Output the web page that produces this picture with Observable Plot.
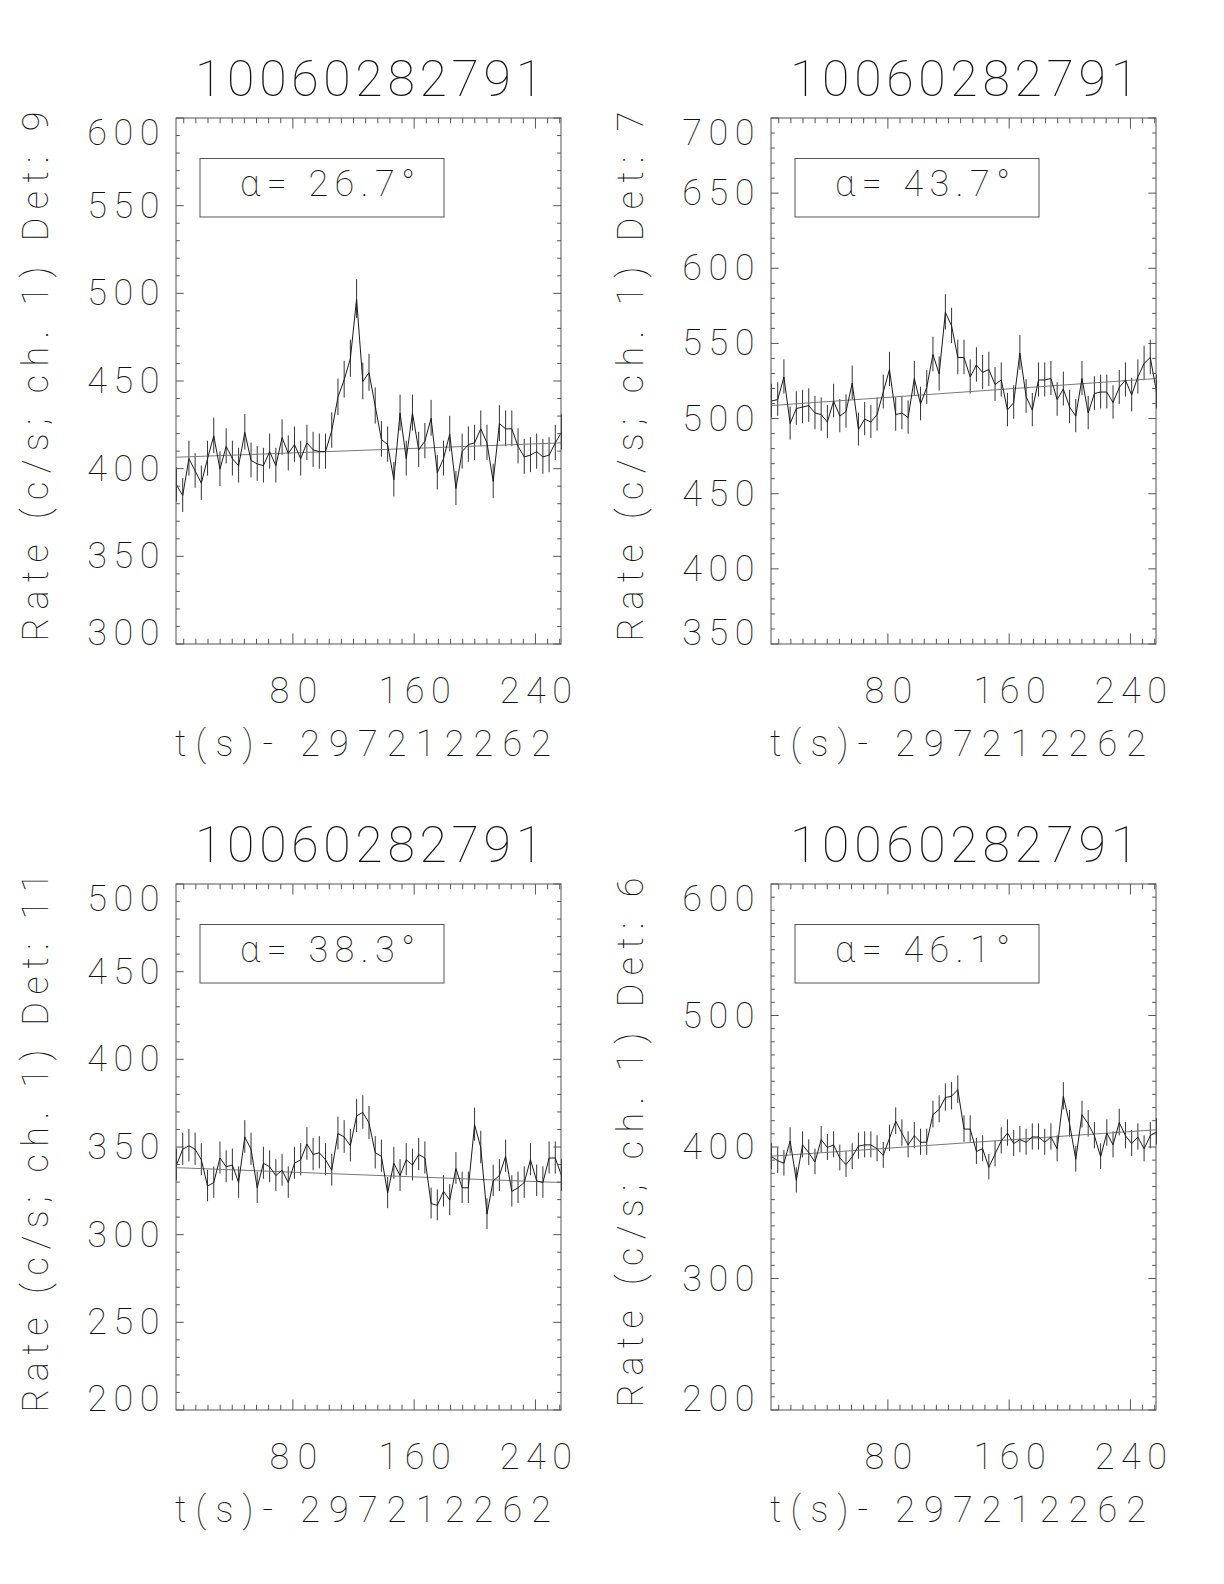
<!DOCTYPE html>
<html>
<head>
<meta charset="utf-8">
<script src="https://cdn.jsdelivr.net/npm/d3@7"></script>
<script src="https://cdn.jsdelivr.net/npm/@observablehq/plot@0.6"></script>
<style>
html, body { margin: 0; padding: 0; background: #fff; }
#page { position: relative; width: 1224px; height: 1584px; background: #fff; overflow: hidden; }
.panel { position: absolute; }
</style>
</head>
<body>
<div id="page"></div>
<script>
// ---------- data ----------
const burstTitle = "10060282791";
const timeOffsetLabel = "t(s)- 297212262";
const detectors = ["9", "7", "11", "6"];
const alphaAngles = ["26.7", "43.7", "38.3", "46.1"];
const xTickValues = [80, 160, 240];
const binWidth = 4.096;          // s
const firstBinTime = 2.9;        // s after offset

const rateDet9 = [391,385,406,399,392,406,419,400,413,406,
  402,421,405,403,402,410,402,418,409,414,
  406,415,411,410,410,422,441,451,463,497,
  450,455,436,417,414,394,432,406,432,411,
  416,429,398,406,420,389,410,414,415,423,
  415,393,426,423,423,413,407,408,410,407,
  408,415,421];
const rateDet7 = [512,513,528,497,507,508,509,504,503,498,
  512,502,505,524,493,500,498,503,518,533,
  503,504,501,527,510,521,543,530,571,562,
  541,541,528,536,531,533,523,526,506,511,
  544,515,506,526,526,527,513,520,508,502,
  527,504,517,518,518,511,521,526,516,528,
  537,541,518];
const rateDet11 = [340,349,351,349,343,328,330,344,339,340,
  330,356,349,327,341,339,334,337,330,341,
  343,352,346,347,343,337,358,356,351,368,
  370,364,347,345,324,341,334,343,340,346,
  344,318,317,325,320,338,327,327,363,350,
  312,331,334,345,325,327,330,343,331,330,
  344,344,334];
const rateDet6 = [393,390,388,405,375,402,396,389,406,400,
  402,392,387,393,401,402,402,399,394,407,
  420,411,402,409,404,404,425,429,438,439,
  444,414,414,397,399,385,395,405,411,403,
  406,404,408,408,404,408,399,439,418,391,
  425,418,409,393,411,402,419,409,403,408,
  399,409,412];

// background fit: value at first and last bin
const fitDet9 = [406.8, 415.0];
const fitDet7 = [509.0, 527.0];
const fitDet11 = [338.5, 330.0];
const fitDet6 = [393.4, 413.5];

const yDomains = [[300, 600], [350, 700], [200, 500], [200, 600]];
const yMajorSteps = [50, 50, 50, 100];
const yMinorStep = 10;
const xMajorStep = 80;
const xMinorStep = 8;

// ---------- layout ----------
const SVG_W = 612, SVG_H = 766;
const FRAME_W = 385, FRAME_H = 526;
const colLeft = [176, 159];    // frame left inside each column svg
const INK = "#111";
const AXIS = "#555";
const FONT = "Roboto, 'Noto Sans', sans-serif";
const WEIGHT = 100;

const rateSets = [rateDet9, rateDet7, rateDet11, rateDet6];
const fitSets = [fitDet9, fitDet7, fitDet11, fitDet6];

function frameAndTicks(xDomain, yDomain, yMajor) {
  return (index, scales, values, dims) => {
    const x = scales.x, y = scales.y;
    const L = dims.marginLeft, R = dims.width - dims.marginRight;
    const T = dims.marginTop, B = dims.height - dims.marginBottom;
    const lenX = 0.02 * (B - T), lenY = 0.02 * (R - L);
    let d = "";
    const isMul = (v, s) => Math.abs(v / s - Math.round(v / s)) < 1e-6;
    for (let v = Math.ceil(xDomain[0] / xMinorStep) * xMinorStep; v <= xDomain[1] + 1e-9; v += xMinorStep) {
      const px = x(v), len = isMul(v, xMajorStep) ? lenX : lenX / 2;
      d += `M${px},${B}V${B - len}M${px},${T}V${T + len}`;
    }
    for (let v = yDomain[0]; v <= yDomain[1] + 1e-9; v += yMinorStep) {
      const py = y(v), len = isMul(v, yMajor) ? lenY : lenY / 2;
      d += `M${L},${py}H${L + len}M${R},${py}H${R - len}`;
    }
    const g = d3.create("svg:g").attr("fill", "none").attr("stroke", AXIS).attr("stroke-width", 1);
    g.append("path").attr("d", d);
    g.append("rect").attr("x", L).attr("y", T).attr("width", R - L).attr("height", B - T);
    // annotation box
    g.append("rect").attr("x", L + 24).attr("y", T + 40.5).attr("width", 244).attr("height", 58.5);
    return g.node();
  };
}

const page = document.getElementById("page");

for (let p = 0; p < 4; p++) {
  const col = p % 2, row = Math.floor(p / 2);
  const rates = rateSets[p];
  const n = rates.length;
  const times = rates.map((_, i) => firstBinTime + i * binWidth);
  const data = rates.map((r, i) => ({t: times[i], r, e: Math.sqrt(r / binWidth)}));
  const xDomain = [times[0], times[n - 1]];
  const yDomain = yDomains[p];
  const fit = fitSets[p];
  const fitData = [{t: xDomain[0], r: fit[0]}, {t: xDomain[1], r: fit[1]}];
  const yMajor = yMajorSteps[p];
  const yTicks = d3.range(yDomain[0], yDomain[1] + 1e-9, yMajor);
  const yInner = yTicks.slice(1, -1);
  const mL = colLeft[col];
  const txt = {fill: INK, fontSize: 36, fontWeight: WEIGHT, lineAnchor: "middle"};

  const chart = Plot.plot({
    width: SVG_W,
    height: SVG_H,
    marginLeft: mL,
    marginRight: SVG_W - mL - FRAME_W,
    marginTop: 118,
    marginBottom: SVG_H - 118 - FRAME_H,
    x: {domain: xDomain, axis: null},
    y: {domain: yDomain, axis: null},
    style: {fontFamily: FONT, background: "transparent", color: INK, overflow: "visible"},
    marks: [
      Plot.ruleX(data, {x: "t", y1: d => d.r - d.e, y2: d => d.r + d.e, stroke: "#333", strokeWidth: 1}),
      Plot.line(fitData, {x: "t", y: "r", stroke: "#777", strokeWidth: 1}),
      Plot.line(data, {x: "t", y: "r", stroke: "#1a1a1a", strokeWidth: 1}),
      frameAndTicks(xDomain, yDomain, yMajor),
      // title
      Plot.text([burstTitle], {text: d => d, frameAnchor: "top", textAnchor: "middle", dy: -39, ...txt, fontSize: 50}),
      // y label
      Plot.text([`Rate (c/s; ch. 1) Det: ${detectors[p]}`], {text: d => d, frameAnchor: "left", textAnchor: "middle", rotate: -90, dx: -140, dy: -5, ...txt}),
      // x label
      Plot.text([timeOffsetLabel], {text: d => d, frameAnchor: "bottom", textAnchor: "middle", dx: -6, dy: 100, ...txt}),
      // x tick labels
      Plot.text(xTickValues, {x: d => d, text: d => String(d), frameAnchor: "bottom", textAnchor: "middle", dy: 47, ...txt}),
      // y tick labels
      Plot.text(yInner, {y: d => d, text: d => String(d), frameAnchor: "left", textAnchor: "end", dx: -17, ...txt}),
      Plot.text([yTicks[yTicks.length - 1]], {y: d => d, text: d => String(d), frameAnchor: "left", textAnchor: "end", dx: -17, dy: 15, ...txt}),
      Plot.text([yTicks[0]], {y: d => d, text: d => String(d), frameAnchor: "left", textAnchor: "end", dx: -17, dy: -11, ...txt}),
      // alpha annotation
      Plot.text([`α= ${alphaAngles[p]}°`], {text: d => d, frameAnchor: "top-left", textAnchor: "middle", dx: 151, dy: 66, ...txt})
    ]
  });

  // match the wide plotter lettering
  chart.querySelectorAll("text").forEach(t => {
    const s = t.textContent;
    let len = null;
    if (s === burstTitle) len = 348;
    else if (s === timeOffsetLabel) len = 376;
    else if (s.startsWith("Rate")) len = s.endsWith("11") ? 540 : 530;
    else if (s.startsWith("α")) len = 175;
    else if (/^\d+$/.test(s)) len = 24.4 * s.length - 1;
    if (len) { t.setAttribute("textLength", len); t.setAttribute("lengthAdjust", "spacing"); }
  });

  const wrap = document.createElement("div");
  wrap.className = "panel";
  wrap.style.left = (col * SVG_W) + "px";
  wrap.style.top = (row * SVG_H) + "px";
  wrap.appendChild(chart);
  page.appendChild(wrap);
}
</script>
</body>
</html>
